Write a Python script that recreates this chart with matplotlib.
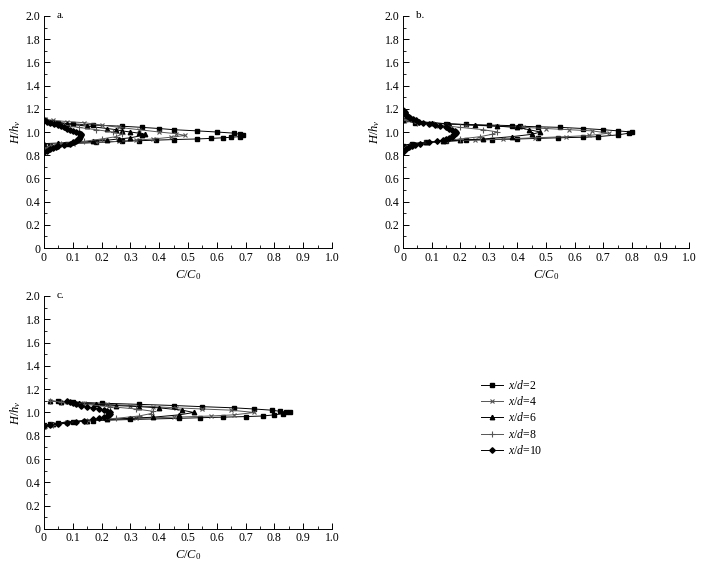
import matplotlib
matplotlib.use("Agg")
import matplotlib.pyplot as plt
from matplotlib.ticker import MultipleLocator

plt.rcParams['font.family'] = ['Liberation Serif', 'DejaVu Serif']
plt.rcParams['mathtext.fontset'] = 'custom'
plt.rcParams['mathtext.it'] = 'Liberation Serif:italic'
plt.rcParams['mathtext.rm'] = 'Liberation Serif'

labels = ['$x/d$=2', '$x/d$=4', '$x/d$=6', '$x/d$=8', '$x/d$=10']

# panel a
a_y2 = [0.86, 0.88, 0.90, 0.91, 0.92, 0.925, 0.93, 0.935, 0.94, 0.945, 0.95, 0.955, 0.96, 0.97,
        0.98, 0.99, 1.00, 1.01, 1.02, 1.03, 1.04, 1.05, 1.06, 1.07, 1.08, 1.09, 1.10]
a_c2 = [0.0, 0.02, 0.08, 0.18, 0.27, 0.33, 0.39, 0.45, 0.53, 0.58, 0.62, 0.65, 0.68, 0.69,
        0.68, 0.66, 0.60, 0.53, 0.45, 0.40, 0.34, 0.27, 0.17, 0.10, 0.05, 0.02, 0.0]
a_y4 = [0.86, 0.88, 0.90, 0.91, 0.92, 0.93, 0.94, 0.955, 0.97, 0.985, 1.00, 1.02, 1.04, 1.06, 1.08, 1.09, 1.10, 1.11]
a_c4 = [0.0, 0.03, 0.10, 0.18, 0.26, 0.32, 0.38, 0.44, 0.49, 0.46, 0.40, 0.33, 0.26, 0.20, 0.14, 0.08, 0.03, 0.0]
a_y6 = [0.90, 0.905, 0.91, 0.92, 0.93, 0.94, 0.95, 0.97, 0.98, 0.99, 1.00, 1.01, 1.02, 1.03, 1.05, 1.07, 1.09, 1.10]
a_c6 = [0.0, 0.05, 0.10, 0.17, 0.22, 0.26, 0.30, 0.34, 0.35, 0.33, 0.30, 0.27, 0.25, 0.22, 0.15, 0.08, 0.03, 0.0]
a_y8 = [0.86, 0.88, 0.90, 0.92, 0.94, 0.96, 0.98, 1.00, 1.02, 1.04, 1.06, 1.08, 1.10, 1.11]
a_c8 = [0.0, 0.02, 0.06, 0.14, 0.20, 0.25, 0.27, 0.24, 0.18, 0.12, 0.07, 0.03, 0.01, 0.0]
a_y10 = [0.83, 0.84, 0.85, 0.86, 0.87, 0.88, 0.89, 0.90, 0.91, 0.92, 0.93, 0.94, 0.95, 0.96,
         0.97, 0.98, 0.99, 1.00, 1.01, 1.02, 1.03, 1.04, 1.05, 1.06, 1.07, 1.08, 1.09, 1.10]
a_c10 = [0.0, 0.01, 0.02, 0.03, 0.04, 0.05, 0.07, 0.09, 0.10, 0.11, 0.115, 0.12, 0.12, 0.125,
         0.13, 0.13, 0.12, 0.11, 0.10, 0.09, 0.08, 0.07, 0.06, 0.05, 0.035, 0.02, 0.01, 0.0]

# panel b
b_y2 = [0.88, 0.90, 0.91, 0.92, 0.93, 0.935, 0.94, 0.945, 0.95, 0.955, 0.96, 0.975, 0.99,
        1.00, 1.01, 1.02, 1.03, 1.04, 1.045, 1.05, 1.055, 1.06, 1.065, 1.07, 1.08, 1.10]
b_c2 = [0.0, 0.03, 0.08, 0.15, 0.22, 0.31, 0.40, 0.47, 0.54, 0.63, 0.68, 0.75, 0.79,
        0.80, 0.75, 0.70, 0.63, 0.55, 0.47, 0.41, 0.38, 0.30, 0.22, 0.15, 0.04, 0.0]
b_y4 = [0.87, 0.89, 0.91, 0.92, 0.93, 0.94, 0.95, 0.96, 0.97, 0.99, 1.01, 1.02, 1.03, 1.04, 1.05, 1.06, 1.08, 1.10, 1.11]
b_c4 = [0.0, 0.03, 0.08, 0.15, 0.25, 0.35, 0.46, 0.57, 0.65, 0.72, 0.66, 0.58, 0.50, 0.42, 0.33, 0.22, 0.10, 0.02, 0.0]
b_y6 = [0.88, 0.90, 0.91, 0.92, 0.93, 0.94, 0.96, 0.98, 1.00, 1.02, 1.04, 1.05, 1.06, 1.07, 1.08, 1.09, 1.10]
b_c6 = [0.0, 0.03, 0.08, 0.14, 0.20, 0.28, 0.38, 0.45, 0.48, 0.44, 0.40, 0.33, 0.25, 0.16, 0.10, 0.05, 0.0]
b_y8 = [0.86, 0.88, 0.90, 0.92, 0.94, 0.96, 0.98, 1.00, 1.02, 1.04, 1.06, 1.08, 1.10, 1.11]
b_c8 = [0.0, 0.02, 0.06, 0.12, 0.20, 0.27, 0.31, 0.33, 0.28, 0.20, 0.12, 0.05, 0.01, 0.0]
b_y10 = [0.83, 0.85, 0.87, 0.88, 0.89, 0.90, 0.91, 0.92, 0.93, 0.94, 0.95, 0.96, 0.97, 0.98, 0.99, 1.00,
         1.01, 1.02, 1.03, 1.04, 1.05, 1.06, 1.07, 1.08, 1.09, 1.10, 1.11, 1.12, 1.13, 1.14, 1.15,
         1.16, 1.17, 1.18, 1.19]
b_c10 = [0.0, 0.01, 0.02, 0.03, 0.04, 0.06, 0.09, 0.12, 0.14, 0.15, 0.16, 0.17, 0.175, 0.18, 0.185, 0.185,
         0.18, 0.17, 0.16, 0.15, 0.13, 0.11, 0.09, 0.07, 0.055, 0.045, 0.035, 0.025, 0.02, 0.015, 0.01,
         0.008, 0.005, 0.003, 0.0]

# panel c
c_y2 = [0.89, 0.90, 0.91, 0.92, 0.93, 0.94, 0.95, 0.955, 0.96, 0.965, 0.97, 0.98, 0.99, 1.00,
        1.005, 1.01, 1.02, 1.03, 1.04, 1.05, 1.06, 1.07, 1.08, 1.09, 1.095]
c_c2 = [0.0, 0.02, 0.05, 0.10, 0.17, 0.30, 0.47, 0.54, 0.62, 0.70, 0.76, 0.80, 0.83, 0.855,
        0.84, 0.82, 0.79, 0.73, 0.66, 0.55, 0.45, 0.33, 0.20, 0.10, 0.05]
c_y4 = [0.88, 0.90, 0.92, 0.93, 0.94, 0.95, 0.96, 0.97, 0.98, 1.00, 1.02, 1.03, 1.04, 1.05, 1.06, 1.07, 1.08, 1.09, 1.10]
c_c4 = [0.0, 0.03, 0.08, 0.14, 0.22, 0.32, 0.45, 0.58, 0.66, 0.73, 0.65, 0.55, 0.46, 0.38, 0.30, 0.22, 0.14, 0.07, 0.02]
c_y6 = [0.88, 0.90, 0.92, 0.93, 0.94, 0.95, 0.96, 0.98, 1.00, 1.02, 1.04, 1.05, 1.06, 1.07, 1.08, 1.09, 1.10]
c_c6 = [0.0, 0.03, 0.08, 0.15, 0.22, 0.30, 0.38, 0.47, 0.52, 0.48, 0.40, 0.33, 0.25, 0.18, 0.12, 0.06, 0.02]
c_y8 = [0.87, 0.89, 0.91, 0.93, 0.95, 0.97, 0.99, 1.01, 1.03, 1.05, 1.07, 1.09, 1.10]
c_c8 = [0.0, 0.03, 0.08, 0.15, 0.25, 0.33, 0.37, 0.38, 0.32, 0.23, 0.14, 0.06, 0.02]
c_y10 = [0.88, 0.89, 0.90, 0.91, 0.92, 0.93, 0.94, 0.95, 0.96, 0.97, 0.98, 0.99, 1.00, 1.01,
         1.02, 1.03, 1.04, 1.05, 1.06, 1.07, 1.08, 1.09, 1.10]
c_c10 = [0.0, 0.02, 0.05, 0.08, 0.11, 0.14, 0.17, 0.19, 0.21, 0.22, 0.225, 0.23, 0.23, 0.22,
         0.21, 0.19, 0.17, 0.15, 0.13, 0.11, 0.10, 0.09, 0.08]

panels = [
    ('a.', [(a_c2, a_y2), (a_c4, a_y4), (a_c6, a_y6), (a_c8, a_y8), (a_c10, a_y10)]),
    ('b.', [(b_c2, b_y2), (b_c4, b_y4), (b_c6, b_y6), (b_c8, b_y8), (b_c10, b_y10)]),
    ('c.', [(c_c2, c_y2), (c_c4, c_y4), (c_c6, c_y6), (c_c8, c_y8), (c_c10, c_y10)]),
]

styles = [
    dict(marker='s', color='black', ms=2.6, lw=0.7),
    dict(marker='x', color='#555555', ms=3.2, lw=0.7, mew=0.8),
    dict(marker='^', color='black', ms=3.2, lw=0.7),
    dict(marker='+', color='#555555', ms=3.8, lw=0.7, mew=0.8),
    dict(marker='D', color='black', ms=2.8, lw=0.7),
]

fig = plt.figure(figsize=(7.06, 5.69), dpi=100)
rects = [
    [0.0623, 0.564, 0.408, 0.408],
    [0.571, 0.564, 0.405, 0.408],
    [0.0623, 0.0703, 0.408, 0.4095],
]

handles = []
for (tag, series), rect in zip(panels, rects):
    ax = fig.add_axes(rect)
    for (cc, yy), st in zip(series, styles):
        h, = ax.plot(cc, yy, **st)
        if tag == 'a.':
            handles.append(h)
    ax.set_xlim(0, 1.0)
    ax.set_ylim(0, 2.0)
    ax.xaxis.set_major_locator(MultipleLocator(0.1))
    ax.xaxis.set_minor_locator(MultipleLocator(0.05))
    ax.yaxis.set_major_locator(MultipleLocator(0.2))
    ax.yaxis.set_minor_locator(MultipleLocator(0.1))
    ax.xaxis.set_major_formatter(lambda v, p: '0' if abs(v) < 1e-9 else f'{v:.1f}')
    ax.yaxis.set_major_formatter(lambda v, p: '0' if abs(v) < 1e-9 else f'{v:.1f}')
    ax.tick_params(which='major', direction='in', length=4, width=0.7, labelsize=8.5, pad=2.5)
    ax.tick_params(which='minor', direction='in', length=2, width=0.6)
    ax.spines[['top', 'right']].set_visible(False)
    ax.spines[['left', 'bottom']].set_linewidth(0.7)
    ax.set_xlabel('$C/C_0$', fontsize=9, labelpad=3)
    ax.set_ylabel('$H/h_v$', fontsize=9, labelpad=2)
    ax.text(0.045, 2.0, tag, fontsize=8, va='center', ha='left')

fig.legend(handles, labels,
           loc='upper left', bbox_to_anchor=(0.666, 0.353), frameon=False,
           fontsize=8.5, handlelength=1.9, handletextpad=0.4, labelspacing=0.28)

fig.savefig('out.png', dpi=100, facecolor='white')
